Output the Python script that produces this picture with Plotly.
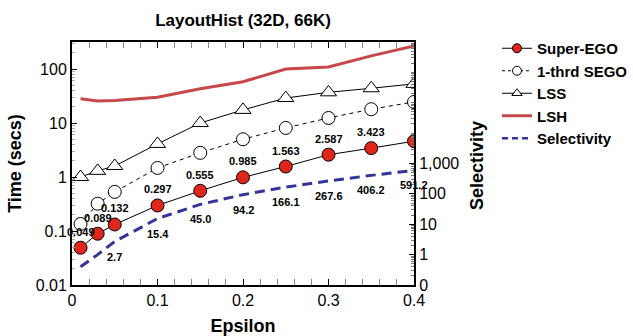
import math
import plotly.graph_objects as go

eps = [0.01, 0.03, 0.05, 0.1, 0.15, 0.2, 0.25, 0.3, 0.35, 0.4]
super_ego = [0.049, 0.089, 0.132, 0.297, 0.555, 0.985, 1.563, 2.587, 3.423, 4.6]
super_ego_labels = ["0.049", "0.089", "0.132", "0.297", "0.555", "0.985", "1.563", "2.587", "3.423", ""]
thrd_sego = [0.135, 0.32, 0.53, 1.47, 2.8, 5.0, 8.1, 12.4, 18.0, 24.5]
lss = [1.0, 1.3, 1.6, 4.1, 10.0, 17.5, 29.0, 37.0, 44.0, 53.0]
lsh = [28.0, 25.5, 26.0, 30.0, 43.0, 58.0, 100.0, 109.0, 175.0, 267.0]
selectivity = [0.4, 1.0, 2.7, 15.4, 45.0, 94.2, 166.1, 267.6, 406.2, 591.2]
selectivity_labels = ["", "", "2.7", "15.4", "45.0", "94.2", "166.1", "267.6", "406.2", "591.2"]
series_names = ["Super-EGO", "1-thrd SEGO", "LSS", "LSH", "Selectivity"]

FONT = "Liberation Sans, Arial, sans-serif"

styles = [
    dict(line=dict(color="black", width=1),
         marker=dict(symbol="circle", size=13, color="#e0251b", line=dict(color="black", width=1)),
         mode="lines+markers"),
    dict(line=dict(color="black", width=1, dash="4px,4px"),
         marker=dict(symbol="circle", size=13, color="white", line=dict(color="black", width=1)),
         mode="lines+markers"),
    dict(line=dict(color="black", width=1),
         marker=dict(symbol="triangle-up", size=14, color="white", line=dict(color="black", width=1)),
         mode="lines+markers"),
    dict(line=dict(color="#c8474a", width=3), mode="lines"),
    dict(line=dict(color="#33339a", width=3, dash="10px,6px"), mode="lines"),
]
series = [super_ego, thrd_sego, lss, lsh, selectivity]

fig = go.Figure()
for name, ys, st in zip(series_names, series, styles):
    fig.add_trace(go.Scatter(x=eps, y=ys, name=name, showlegend=False,
                             yaxis="y2" if name == "Selectivity" else "y", **st))

# legend entries with smaller symbols
leg_styles = [
    dict(line=dict(color="black", width=1),
         marker=dict(symbol="circle", size=9, color="#e0251b", line=dict(color="black", width=1)),
         mode="lines+markers"),
    dict(line=dict(color="black", width=1, dash="3px,3px"),
         marker=dict(symbol="circle", size=9, color="white", line=dict(color="black", width=1)),
         mode="lines+markers"),
    dict(line=dict(color="black", width=1),
         marker=dict(symbol="triangle-up", size=9, color="white", line=dict(color="black", width=1)),
         mode="lines+markers"),
    dict(line=dict(color="#c8474a", width=3), mode="lines"),
    dict(line=dict(color="#33339a", width=2.5, dash="6px,4px"), mode="lines"),
]
for name, st in zip(series_names, leg_styles):
    fig.add_trace(go.Scatter(x=[None], y=[None], name=name, showlegend=True, **st))

anns = []
for x, v, t in zip(eps, super_ego, super_ego_labels):
    if t:
        anns.append(dict(x=x, y=math.log10(v), xref="x", yref="y", text=t, showarrow=False,
                         yshift=16, font=dict(family=FONT, size=11, color="black", weight="bold")))
for x, v, t in zip(eps, selectivity, selectivity_labels):
    if t:
        anns.append(dict(x=x, y=math.log10(v), xref="x", yref="y2", text=t, showarrow=False,
                         yshift=-15, font=dict(family=FONT, size=11, color="black", weight="bold")))
anns.append(dict(x=(489 - 72) / 342, y=0.49, xref="paper", yref="paper", text="Selectivity",
                 showarrow=False, textangle=-90,
                 font=dict(family=FONT, size=18, color="black", weight="bold")))

fig.update_layout(
    width=633, height=336,
    margin=dict(l=72, r=219, t=42, b=51, autoexpand=False),
    paper_bgcolor="white", plot_bgcolor="white",
    font=dict(family=FONT, color="black"),
    title=dict(text="<b>LayoutHist (32D, 66K)</b>", x=243 / 633, xanchor="center",
               y=1 - 20 / 336, yanchor="middle", font=dict(size=17, family=FONT)),
    xaxis=dict(range=[0, 0.4], tickvals=[0, 0.1, 0.2, 0.3, 0.4],
               ticktext=["0", "0.1", "0.2", "0.3", "0.4"],
               ticks="inside", ticklen=6, tickcolor="black", tickwidth=1,
               minor=dict(dtick=0.02, ticks="inside", ticklen=4, tickcolor="#888888"),
               showline=True, linecolor="black", linewidth=2, mirror="allticks",
               showgrid=False, zeroline=False, automargin=False,
               tickfont=dict(size=16, family=FONT),
               title=dict(text="<b>Epsilon</b>", font=dict(size=18, family=FONT), standoff=13)),
    yaxis=dict(type="log", range=[-2, 2.5], tickvals=[0.01, 0.1, 1, 10, 100],
               ticktext=["0.01", "0.1", "1", "10", "100"],
               ticks="inside", ticklen=5, tickcolor="black",
               minor=dict(ticks="inside", ticklen=3, tickcolor="#aaaaaa", dtick="D1"),
               showline=True, linecolor="black", linewidth=2,
               showgrid=False, zeroline=False, automargin=False,
               tickfont=dict(size=16, family=FONT),
               title=dict(text="<b>Time (secs)</b>", font=dict(size=18, family=FONT), standoff=9)),
    yaxis2=dict(type="log", range=[-1, 7], overlaying="y", side="right",
                tickvals=[0.1, 1, 10, 100, 1000], ticktext=["0", "1", "10", "100", "1,000"],
                ticks="inside", ticklen=5, tickcolor="black",
                minor=dict(ticks="inside", ticklen=3, tickcolor="#777777", dtick="D1"),
                showline=True, linecolor="black", linewidth=2,
                showgrid=False, zeroline=False, automargin=False,
                tickfont=dict(size=16, family=FONT)),
    legend=dict(xref="container", x=497 / 633, y=1 - 32 / 336, yref="container",
                xanchor="left", yanchor="top",
                font=dict(size=15, family=FONT, weight="bold"),
                bgcolor="rgba(0,0,0,0)", tracegroupgap=0, itemwidth=30),
    annotations=anns,
    showlegend=True,
)

fig.write_html("out.html")
